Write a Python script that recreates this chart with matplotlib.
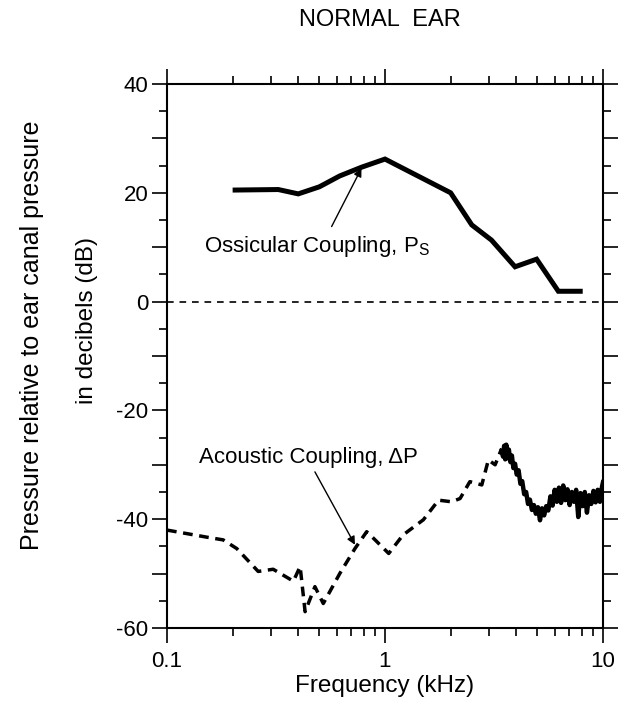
import matplotlib
matplotlib.use("Agg")
import matplotlib.pyplot as plt
from matplotlib.ticker import FixedLocator, NullFormatter, FuncFormatter, LogLocator

plt.rcParams['font.family'] = ['Liberation Sans', 'DejaVu Sans']

# Ossicular coupling, Ps (solid)
oss_freq = [0.20, 0.324, 0.40, 0.50, 0.62, 0.78, 1.00, 2.00, 2.50, 3.08, 3.95, 4.96, 6.24, 8.07]
oss_db = [20.5, 20.6, 19.8, 21.1, 23.1, 24.7, 26.2, 20.0, 14.1, 11.3, 6.4, 7.8, 1.9, 1.9]

# Acoustic coupling, dP (dashed low-frequency part)
ac_freq = [0.10, 0.152, 0.181, 0.209, 0.262, 0.307, 0.380, 0.408, 0.43, 0.477, 0.521,
           0.622, 0.728, 0.824, 0.885, 1.04, 1.21, 1.50, 1.76, 2.02, 2.21, 2.45,
           2.78, 2.98, 3.20, 3.43]
ac_db = [-42.0, -43.3, -43.8, -45.4, -49.6, -49.2, -51.4, -48.7, -57.0, -52.4, -55.5,
         -49.9, -45.4, -42.3, -43.5, -46.3, -42.9, -40.1, -36.5, -36.8, -36.2, -33.1,
         -33.7, -29.1, -30.0, -27.0]

# Acoustic coupling, high-frequency noisy part (solid)
hf_freq = [3.43, 3.48, 3.52, 3.56, 3.60, 3.65, 3.70, 3.76, 3.82, 3.88, 3.95, 4.02, 4.10,
           4.18, 4.26, 4.35, 4.44, 4.53, 4.62, 4.72, 4.82, 4.92, 5.03, 5.14, 5.25, 5.37,
           5.49, 5.61, 5.74, 5.87, 6.00, 6.14, 6.28, 6.42, 6.57, 6.72, 6.87, 7.03, 7.19,
           7.36, 7.53, 7.70, 7.88, 8.06, 8.25, 8.44, 8.63, 8.83, 9.04, 9.25, 9.46, 9.68,
           9.90, 10.0]
hf_db = [-27.5, -28.5, -26.5, -29.0, -26.3, -28.8, -27.2, -29.5, -28.3, -30.6, -29.8, -31.8,
         -31.0, -33.5, -33.0, -35.4, -35.0, -37.2, -36.4, -38.3, -37.4, -39.0, -37.8, -40.2,
         -38.0, -39.3, -37.6, -38.4, -35.8, -37.5, -34.6, -36.8, -34.2, -37.0, -33.8, -36.5,
         -34.5, -37.4, -35.0, -36.8, -34.6, -39.6, -35.2, -37.6, -35.0, -38.8, -35.6, -37.2,
         -34.8, -36.9, -34.6, -36.8, -34.0, -33.2]

y_ticks = [-60, -40, -20, 0, 20, 40]
x_ticks = [0.1, 1, 10]
x_ticklabels = ['0.1', '1', '10']

fig = plt.figure(figsize=(6.24, 7.11), dpi=100)
ax = fig.add_axes([167 / 624, 1 - 628 / 711, (603 - 167) / 624, (628 - 84) / 711])

ax.plot(oss_freq, oss_db, color='black', lw=3.6, solid_joinstyle='miter', solid_capstyle='butt')
ax.plot(ac_freq, ac_db, color='black', lw=2.5, linestyle=(0, (2.8, 1.9)))
ax.plot(hf_freq, hf_db, color='black', lw=3.2)
ax.axhline(0, color='black', lw=1.2, linestyle=(0, (4, 3.5)))

ax.set_xscale('log')
ax.set_xlim(0.1, 10)
ax.set_ylim(-60, 40)

ax.xaxis.set_major_locator(FixedLocator(x_ticks))
ax.set_xticklabels(x_ticklabels)
ax.xaxis.set_minor_locator(LogLocator(base=10, subs=range(2, 10)))
ax.xaxis.set_minor_formatter(NullFormatter())

ax.yaxis.set_major_locator(FixedLocator(list(range(-60, 41, 10))))
ax.yaxis.set_major_formatter(FuncFormatter(lambda v, p: f"{int(v)}" if int(v) in y_ticks else ""))
ax.yaxis.set_minor_locator(FixedLocator(list(range(-55, 40, 10))))

ax.tick_params(which='both', direction='out', top=True, right=True, width=1.2, labelsize=16)
ax.tick_params(which='major', length=10.5)
ax.tick_params(which='minor', length=5.5)
ax.tick_params(axis='x', which='major', pad=6)
ax.tick_params(axis='y', which='major', pad=3)
for s in ax.spines.values():
    s.set_linewidth(1.5)

ax.set_xlabel('Frequency (kHz)', fontsize=17.5, labelpad=2)

fig.text(32 / 624, 1 - 335 / 711, 'Pressure relative to ear canal pressure', rotation=90,
         ha='center', va='center', fontsize=18)
fig.text(87 / 624, 1 - 320 / 711, 'in decibels (dB)', rotation=90,
         ha='center', va='center', fontsize=17.5)
fig.text(380 / 624, 1 - 20 / 711, 'NORMAL  EAR', ha='center', va='center', fontsize=17)

ax.annotate('', xy=(0.78, 24.5), xytext=(0.569, 13.8),
            arrowprops=dict(arrowstyle='-|>', color='black', lw=1.0, mutation_scale=12,
                            shrinkA=0, shrinkB=0))
ax.text(0.148, 9.1, 'Ossicular Coupling, P$_\\mathregular{S}$', fontsize=16, ha='left', va='baseline')

ax.annotate('', xy=(0.728, -44.7), xytext=(0.477, -31.3),
            arrowprops=dict(arrowstyle='-|>', color='black', lw=1.0, mutation_scale=12,
                            shrinkA=0, shrinkB=0))
ax.text(0.140, -29.7, 'Acoustic Coupling, \u0394P', fontsize=16, ha='left', va='baseline')

fig.savefig('out.png', dpi=100)
